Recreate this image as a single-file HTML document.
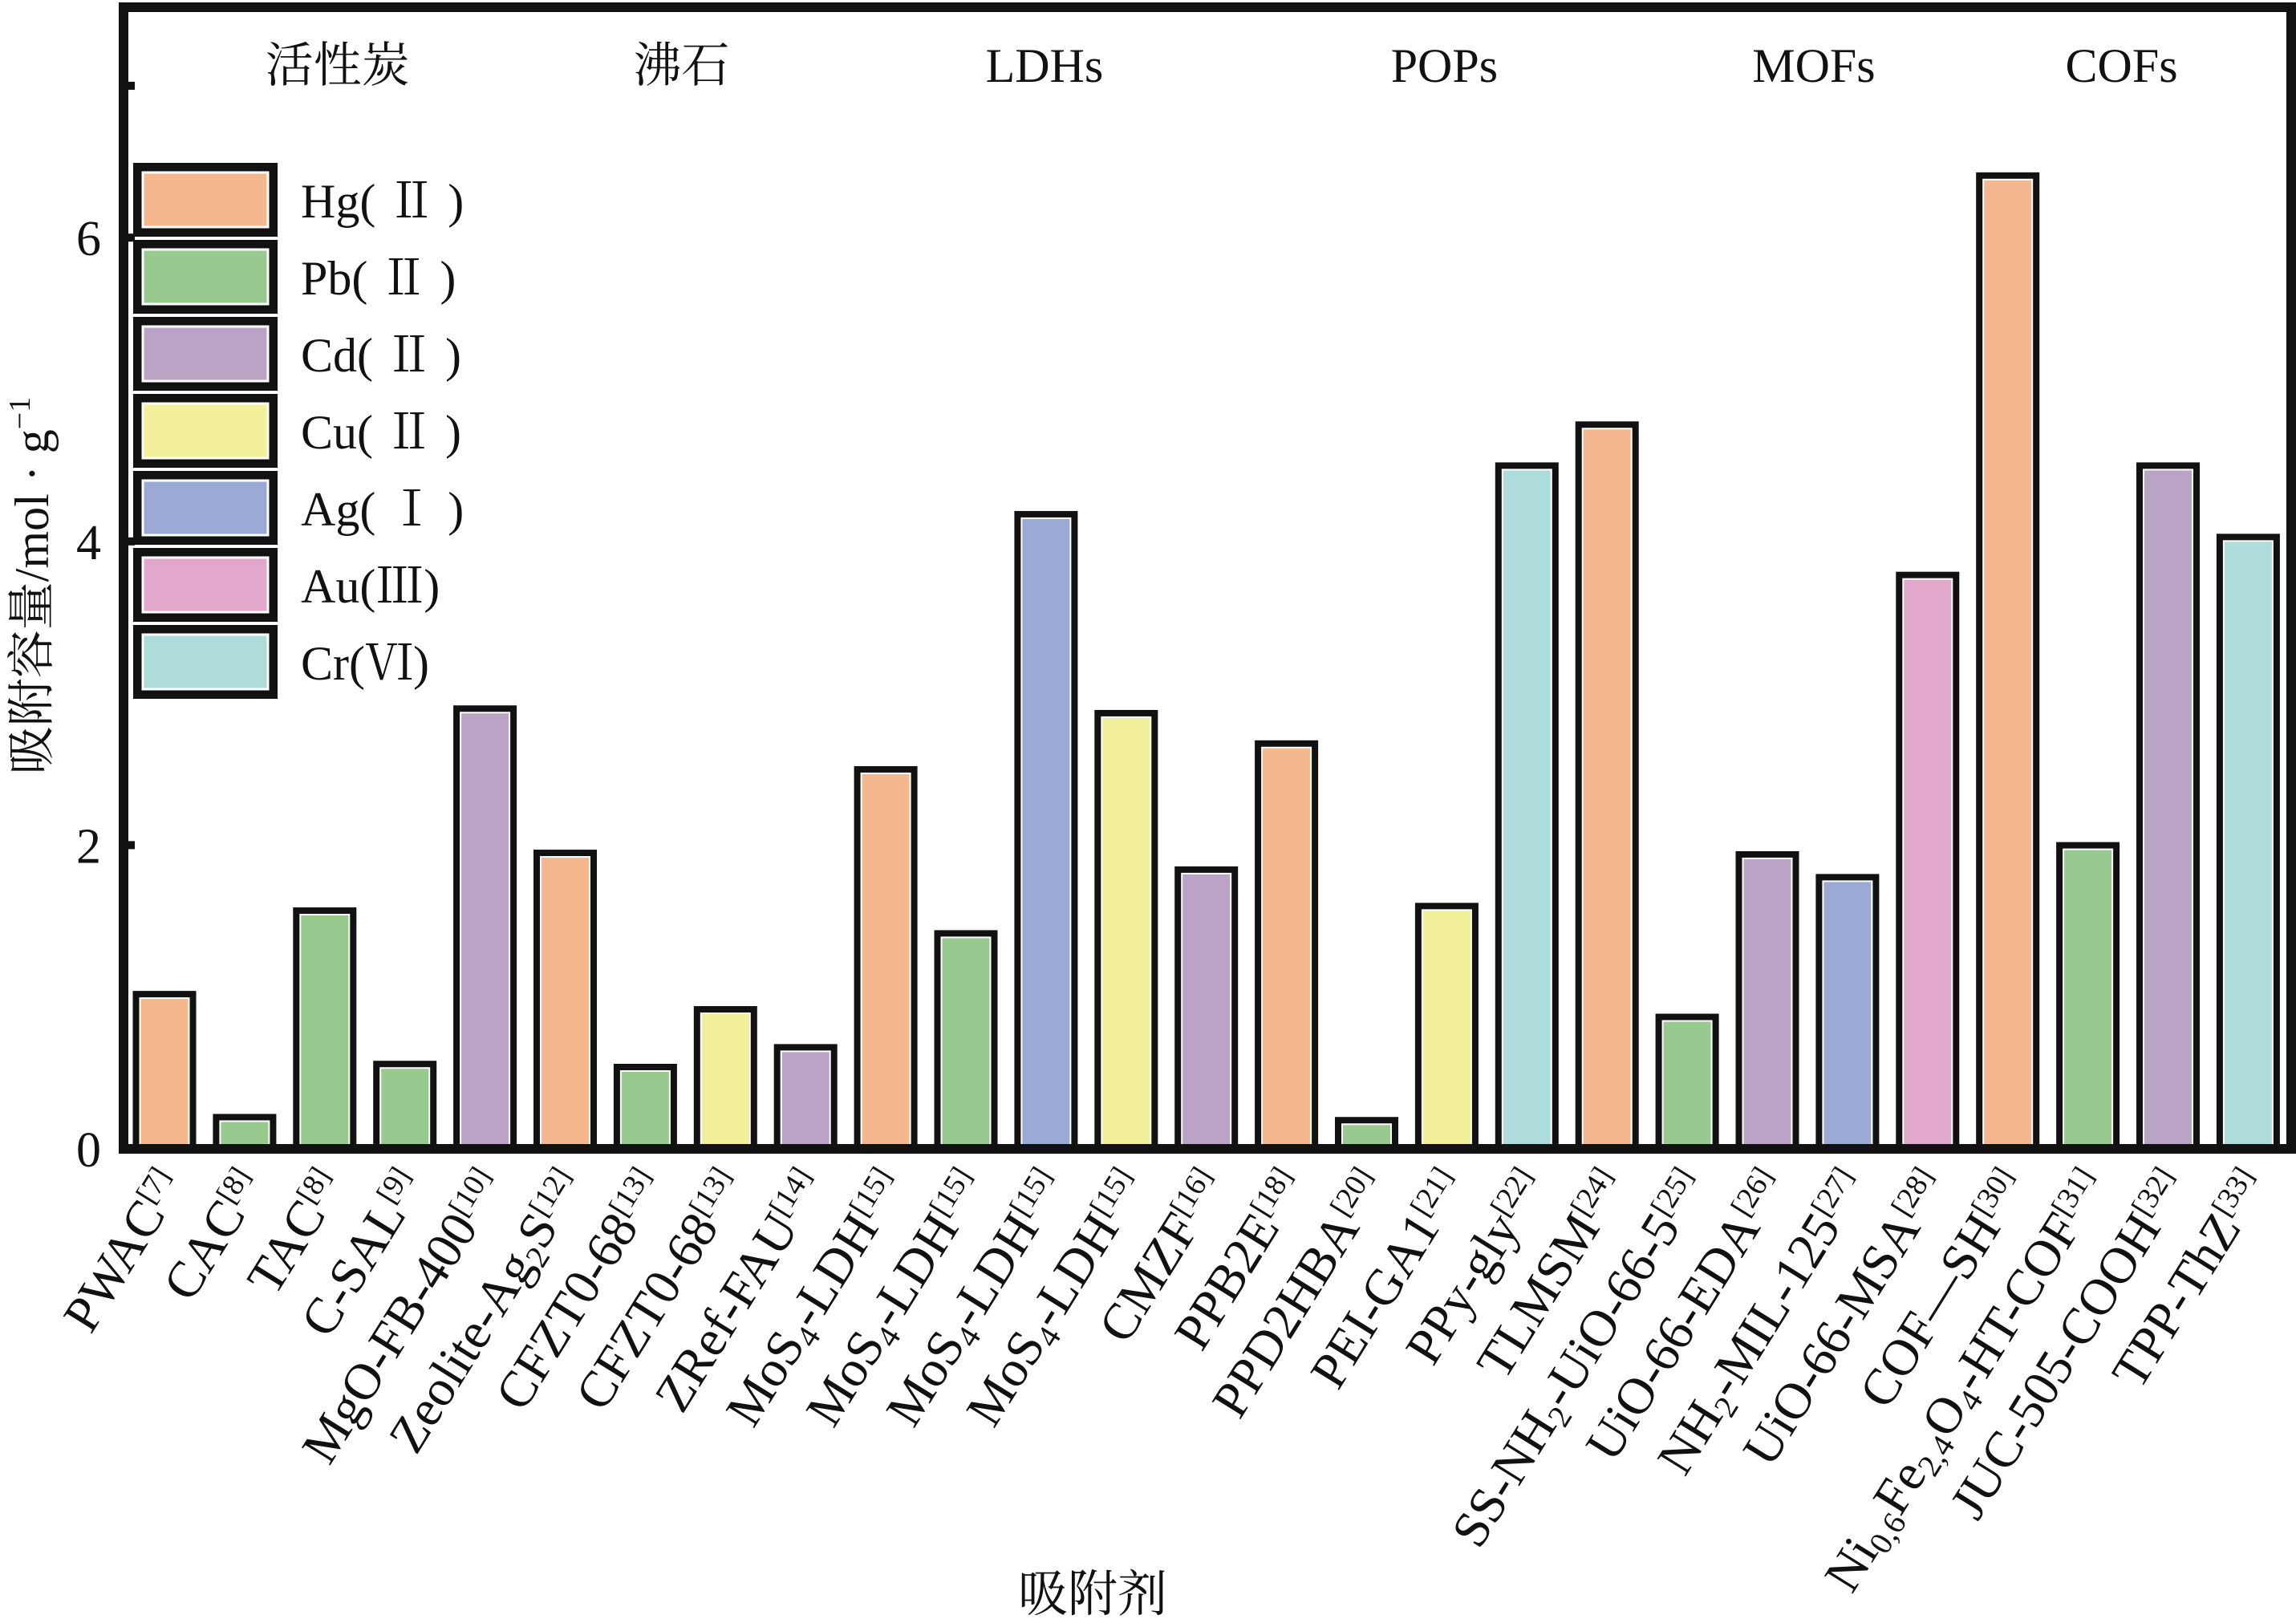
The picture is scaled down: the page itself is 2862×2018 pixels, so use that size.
<!DOCTYPE html>
<html><head><meta charset="utf-8">
<style>
html,body{margin:0;padding:0;background:#fff;}
svg{display:block;font-family:"Liberation Serif","Noto Serif CJK SC",serif;}
</style></head>
<body>
<svg id="chart" width="2862" height="2018" viewBox="0 0 2862 2018" xmlns="http://www.w3.org/2000/svg"></svg>
<script>
const categories = ["PWAC^{[7]}","CAC^{[8]}","TAC^{[8]}","C-SAL^{[9]}","MgO-FB-400^{[10]}","Zeolite-Ag_{2}S^{[12]}","CFZT0-68^{[13]}","CFZT0-68^{[13]}","ZRef-FAU^{[14]}","MoS_{4}-LDH^{[15]}","MoS_{4}-LDH^{[15]}","MoS_{4}-LDH^{[15]}","MoS_{4}-LDH^{[15]}","CMZF^{[16]}","PPB2E^{[18]}","PPD2HBA^{[20]}","PEI-GA1^{[21]}","PPy-gly^{[22]}","TLMSM^{[24]}","SS-NH_{2}-UiO-66-5^{[25]}","UiO-66-EDA^{[26]}","NH_{2}-MIL-125^{[27]}","UiO-66-MSA^{[28]}","COF—SH^{[30]}","Ni_{0,6}Fe_{2,4}O_{4}-HT-COF^{[31]}","JUC-505-COOH^{[32]}","TPP-ThZ^{[33]}"];
const values = [1.04,0.23,1.59,0.58,2.92,1.97,0.56,0.94,0.69,2.52,1.44,4.2,2.89,1.86,2.69,0.21,1.62,4.52,4.79,0.89,1.96,1.81,3.8,6.43,2.02,4.52,4.05];
const metals = ["Hg","Pb","Pb","Pb","Cd","Hg","Pb","Cu","Cd","Hg","Pb","Ag","Cu","Cd","Hg","Pb","Cu","Cr","Hg","Pb","Cd","Ag","Au","Hg","Pb","Cd","Cr"];
const legendKeys = ["Hg","Pb","Cd","Cu","Ag","Au","Cr"];
const legendLabels = ["Hg( Ⅱ )","Pb( Ⅱ )","Cd( Ⅱ )","Cu( Ⅱ )","Ag( Ⅰ )","Au(Ⅲ)","Cr(Ⅵ)"];
const groupLabels = ["活性炭","沸石","LDHs","POPs","MOFs","COFs"];
const groupCenters = [2.16,6.45,10.98,15.97,20.58,24.42];
const yTicks = [0,2,4,6];
const colors = {Hg:"#F5B88E",Pb:"#98CA8F",Cd:"#BBA3C6",Cu:"#F2EF9A",Ag:"#9AAAD4",Au:"#E2A8CB",Cr:"#AEDCDA"};

const svg = document.getElementById('chart');
const NS = "http://www.w3.org/2000/svg";
function mk(tag, attrs, parent){const e=document.createElementNS(NS,tag);for(const k in attrs)e.setAttribute(k,attrs[k]);(parent||svg).appendChild(e);return e;}

const X0 = 205, STEP = 99.9, BW = 79;
const Y0 = 1432, UNIT = 189.3;
const xs = i => X0 + i*STEP;
const ys = v => Y0 - v*UNIT;

categories.forEach((c,i)=>{
  const x = xs(i)-BW/2, y = ys(values[i]);
  const g = mk('g',{});
  
  
  mk('rect',{x:x,y:y,width:BW,height:Y0-y,fill:'#111'},g);
  const h = Math.max(0,Y0-y-9);
  mk('rect',{x:x+9,y:y+9,width:BW-18,height:h,fill:colors[metals[i]],stroke:'#fff','stroke-width':2},g);
});

const frame = mk('rect',{x:154,y:9,width:2702,height:1423,fill:'none',stroke:'#111','stroke-width':12});



yTicks.concat([7]).forEach(t=>{
  const tk = mk('rect',{x:160,y:ys(t)-5,width:8,height:10,fill:'#111'});
  
  
});
yTicks.forEach(t=>{
  const tl = mk('text',{x:126,y:ys(t)+22,'font-size':62,'text-anchor':'end',fill:'#111'});
  tl.textContent = String(t);
  
  
});

function richText(el, s){
  const re = /(_\{([^}]*)\})|(\^\{([^}]*)\})|([^_^]+)/g; let m;
  while((m=re.exec(s))){
    const t = document.createElementNS(NS,'tspan');
    if(m[2]!==undefined){t.textContent=m[2];t.setAttribute('font-size','40');t.setAttribute('baseline-shift','-25%');}
    else if(m[4]!==undefined){t.textContent=m[4];t.setAttribute('font-size','38');t.setAttribute('baseline-shift','55%');}
    else t.textContent=m[5];
    el.appendChild(t);
  }
}
categories.forEach((c,i)=>{
  const x = xs(i)+26, y = 1476;
  const t = mk('text',{x:x,y:y,'font-size':64,'text-anchor':'end',fill:'#111',transform:`rotate(-58 ${x} ${y})`});
  richText(t,c);
  
  
});

groupLabels.forEach((g,i)=>{
  const t = mk('text',{x:xs(groupCenters[i]),y:102,'font-size':60,'text-anchor':'middle',fill:'#111'});
  t.textContent = g;
  
  
});

legendKeys.forEach((k,i)=>{
  const top = 203 + i*96;
  const g = mk('g',{});
  
  
  mk('rect',{x:166,y:top,width:180,height:92,fill:'#111'},g);
  mk('rect',{x:178,y:top+12,width:156,height:68,fill:colors[k],stroke:'#fff','stroke-width':3},g);
  const t = mk('text',{x:375,y:top+68,'font-size':60,fill:'#111'},g);
  t.textContent = legendLabels[i];
});

const yt = mk('text',{x:0,y:0,'font-size':60,'text-anchor':'middle',fill:'#111',transform:'translate(60 730) rotate(-90)'});
yt.innerHTML = '吸附容量/mol · g<tspan font-size="38" baseline-shift="60%">−1</tspan>';


const xt = mk('text',{x:1362,y:2008,'font-size':62,'text-anchor':'middle',fill:'#111'});
xt.textContent = '吸附剂';


</script>
</body></html>
